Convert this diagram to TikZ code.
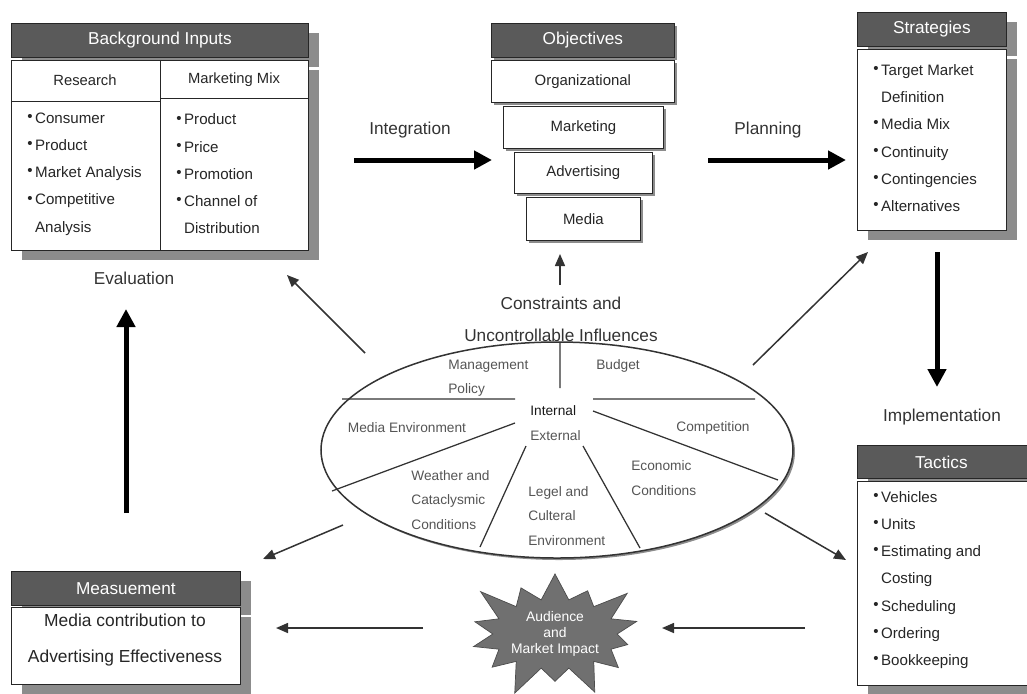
\documentclass[tikz,border=0pt]{standalone}
\usepackage{fontspec}
\setmainfont{Liberation Sans}
\usetikzlibrary{arrows.meta, positioning, shapes.geometric, shapes.symbols, shadows}
\definecolor{hdrgray}{RGB}{90, 90, 90}
\definecolor{shadegray}{RGB}{140, 140, 140}
\definecolor{inkgray}{RGB}{85, 85, 85}
\definecolor{stargray}{RGB}{112, 112, 112}
\newcommand{\fsz}[2]{\fontsize{#1}{#2}\selectfont}
\newcommand{\bul}{\raisebox{0.12em}{\textbullet}\,}

\begin{document}
\begin{tikzpicture}[x=0.2mm, y=-0.2mm,
        hdr/.style={draw=black!85, fill=hdrgray, text=white, font=\fsz{9.8}{12}, anchor=north west, inner sep=0pt, minimum height=6.8mm},
        panel/.style={draw=black!85, fill=white, anchor=north west, inner sep=0pt},
        bigshade/.style={drop shadow={shadow xshift=2.2mm, shadow yshift=-2mm, fill=shadegray, opacity=1}},
        smallshade/.style={drop shadow={shadow xshift=0.6mm, shadow yshift=-0.6mm, fill=shadegray, opacity=1}},
        tier/.style={panel, smallshade, font=\fsz{8.5}{10}, text=black!85},
        sub/.style={font=\fsz{8.4}{10}, text=black!85},
        list/.style={font=\fsz{8.6}{15.5}, text=black!85, align=left, anchor=west, inner sep=0pt},
        lbl/.style={font=\fsz{9.8}{18.2}, text=black!80, align=center},
        envtxt/.style={font=\fsz{7.8}{14}, text=inkgray, align=left, inner sep=0pt},
        bigarr/.style={line width=1mm, -{Triangle[length=3.6mm, width=3.6mm]}},
        thinarr/.style={line width=0.3mm, black!80, -{Triangle[length=2.4mm, width=2mm]}}
      ]
        \clip (0,0) rectangle (1027,693);

        % background inputs
        \node[hdr, bigshade, minimum width=59.4mm] (bg) at (11,23) {Background Inputs};
        \node[panel, bigshade, minimum width=59.4mm, minimum height=38mm] (bgbody) at (11,60) {};
        \draw[black!85] (bgbody.north) -- (bgbody.south);
        \draw[black!85] (11,101) -- (160,101) (160,98) -- (308,98);
        \node[sub] (res) at (85,80) {Research};
        \node[sub] (mix) at (234,80) {Marketing Mix};
        \node[list] (reslist) at (27,174) {\bul Consumer\\ \bul Product\\ \bul Market Analysis\\ \bul Competitive\\ \hphantom{\bul}Analysis};
        \node[list] (mixlist) at (176,174) {\bul Product\\ \bul Price\\ \bul Promotion\\ \bul Channel of\\ \hphantom{\bul}Distribution};

        % objectives
        \node[hdr, smallshade, minimum width=36.6mm] (obj) at (491,23) {Objectives};
        \node[tier, minimum width=36.6mm, minimum height=8.4mm] (org) at (491,60) {Organizational};
        \node[tier, minimum width=32mm, minimum height=8.4mm] (mkt) at (503,106) {Marketing};
        \node[tier, minimum width=27.6mm, minimum height=8.2mm] (adv) at (514,152) {Advertising};
        \node[tier, minimum width=22.8mm, minimum height=8.6mm] (med) at (526,197) {Media};

        % strategies
        \node[hdr, bigshade, minimum width=29.8mm] (strat) at (857,12) {Strategies};
        \node[panel, bigshade, minimum width=29.8mm, minimum height=36.2mm] (stbody) at (857,49) {};
        \node[list] (stlist) at (873,138) {\bul Target Market\\ \hphantom{\bul}Definition\\ \bul Media Mix\\ \bul Continuity\\ \bul Contingencies\\ \bul Alternatives};

        % tactics
        \node[hdr, bigshade, minimum width=36.6mm, minimum height=6.6mm] (tac) at (857,445) {Tactics\hspace*{3mm}};
        \node[panel, bigshade, minimum width=36.6mm, minimum height=40.8mm] (tacbody) at (857,481) {};
        \node[list] (taclist) at (873,580) {\bul Vehicles\\ \bul Units\\ \bul Estimating and\\ \hphantom{\bul}Costing\\ \bul Scheduling\\ \bul Ordering\\ \bul Bookkeeping};

        % measurement
        \node[hdr, bigshade, minimum width=45.8mm] (meas) at (11,571) {Measuement};
        \node[panel, bigshade, minimum width=45.8mm, minimum height=15.4mm] (mbody) at (11,607) {};
        \node[lbl, font=\fsz{9.9}{20.5}, text=black!85] (mtext) at (125,640) {Media contribution to\\Advertising Effectiveness};

        % constraints ellipse
        \node[draw=black!80, line width=0.3mm, fill=white, ellipse, inner sep=0pt, minimum width=94.4mm, minimum height=43.2mm,
              drop shadow={shadow xshift=0.4mm, shadow yshift=-0.4mm, fill=black!45, opacity=1}] (env) at (557,450) {};
        \draw[black!80, line width=0.25mm] (560,342) -- (560,388)
              (342,399) -- (515,399) (593,399) -- (755,399)
              (515,423) -- (332,491) (593,411) -- (778,480)
              (526,446) -- (480,547) (583,446) -- (640,548);
        \node[lbl] (cons) at (561,319) {Constraints and\\Uncontrollable Influences};
        \node[envtxt, anchor=west] (mgmt) at (448,378) {Management\\Policy};
        \node[envtxt] (budget) at (618,366) {Budget};
        \node[envtxt, anchor=west, text=black!90] (intern) at (530,411) {Internal};
        \node[envtxt, anchor=west] (extern) at (530,436) {External};
        \node[envtxt] (mediaenv) at (407,428) {Media Environment};
        \node[envtxt] (compet) at (713,428) {Competition};
        \node[envtxt, anchor=west] (weather) at (411,500) {Weather and\\Cataclysmic\\Conditions};
        \node[envtxt, anchor=west] (legal) at (528,516) {Legel and\\Culteral\\Environment};
        \node[envtxt, anchor=west] (econ) at (631,478) {Economic\\Conditions};

        % audience impact
        \node[starburst, starburst points=14, starburst point height=7mm, fill=stargray, draw=black!70, text=white,
              minimum width=33mm, minimum height=28mm, font=\fsz{7.9}{9.1}, align=center, inner sep=0pt] (impact) at (555,634) {Audience\\and\\Market Impact};

        % labels
        \node[lbl] (integ) at (410,130) {Integration};
        \node[lbl] (plan) at (768,130) {Planning};
        \node[lbl] (eval) at (134,278) {Evaluation};
        \node[lbl] (impl) at (942,417) {Implementation};

        % arrow ends
        \coordinate (int-s) at (354,160); \coordinate (int-e) at (492,160);
        \coordinate (pl-s) at (708,160);  \coordinate (pl-e) at (846,160);
        \coordinate (im-s) at (937,252);  \coordinate (im-e) at (937,387);
        \coordinate (ev-s) at (126,513);  \coordinate (ev-e) at (126,309);
        \coordinate (ob-s) at (560,285);  \coordinate (ob-e) at (560,254);
        \coordinate (bg-s) at (365,353);  \coordinate (bg-e) at (287,275);
        \coordinate (st-s) at (753,365);  \coordinate (st-e) at (868,252);
        \coordinate (me-s) at (343,525);  \coordinate (me-e) at (263,559);
        \coordinate (ta-s) at (765,513);  \coordinate (ta-e) at (846,560);
        \coordinate (au-s) at (805,628);  \coordinate (au-e) at (662,628);
        \coordinate (ef-s) at (423,628);  \coordinate (ef-e) at (276,628);

        \draw[bigarr] (int-s) -- (int-e);
        \draw[bigarr] (pl-s) -- (pl-e);
        \draw[bigarr] (im-s) -- (im-e);
        \draw[bigarr] (ev-s) -- (ev-e);

        \draw[thinarr] (ob-s) -- (ob-e);
        \draw[thinarr] (bg-s) -- (bg-e);
        \draw[thinarr] (st-s) -- (st-e);
        \draw[thinarr] (me-s) -- (me-e);
        \draw[thinarr] (ta-s) -- (ta-e);
        \draw[thinarr] (au-s) -- (au-e);
        \draw[thinarr] (ef-s) -- (ef-e);
      \end{tikzpicture}
\end{document}
